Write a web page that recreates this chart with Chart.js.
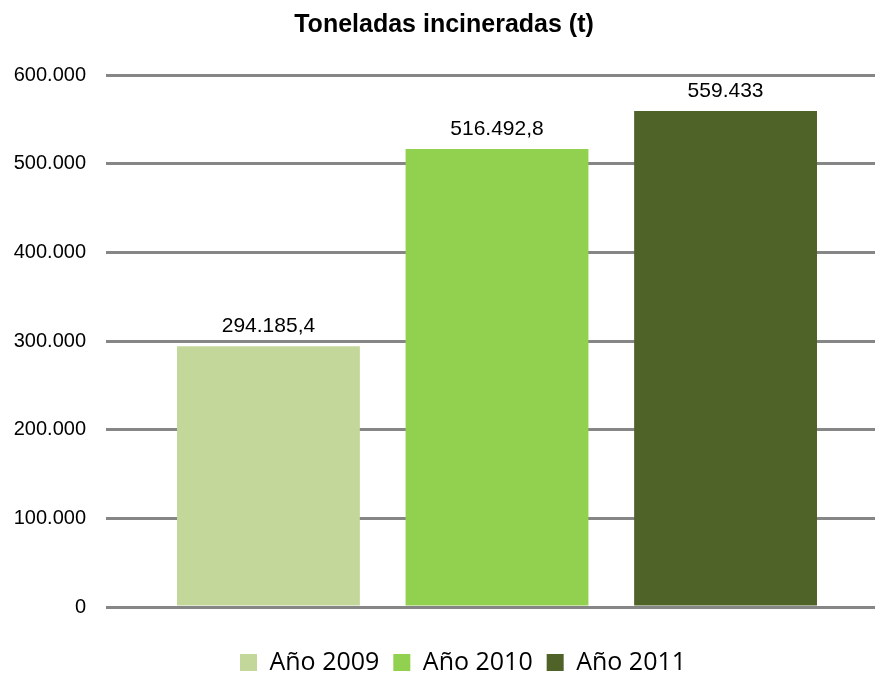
<!DOCTYPE html>
<html>
<head>
<meta charset="utf-8">
<script src="https://cdn.jsdelivr.net/npm/chart.js@4/dist/chart.umd.min.js"></script>
<style>
  html, body { margin: 0; padding: 0; background: #fff; }
  #wrap { width: 875px; height: 677px; }
</style>
</head>
<body>
<div id="wrap"><canvas id="chart" width="875" height="677"></canvas></div>
<script>
const chartTitle = 'Toneladas incineradas (t)';
const seriesNames = ['Año 2009', 'Año 2010', 'Año 2011'];
const seriesValues = [294185.4, 516492.8, 559433];
const seriesColors = ['#C4D79B', '#92D050', '#4F6228'];
const yTicks = [0, 100000, 200000, 300000, 400000, 500000, 600000];

// spanish style: dot for thousands, comma for decimals
function fmt(v) {
  const parts = String(v).split('.');
  const int = parts[0].replace(/\B(?=(\d{3})+(?!\d))/g, '.');
  return parts[1] ? int + ',' + parts[1] : int;
}

const valueLabels = {
  id: 'valueLabels',
  afterDatasetsDraw(chart) {
    const ctx = chart.ctx;
    ctx.save();
    ctx.font = '21px "Liberation Sans", Arial, sans-serif';
    ctx.fillStyle = '#000';
    ctx.textAlign = 'center';
    ctx.textBaseline = 'alphabetic';
    chart.data.datasets.forEach((ds, i) => {
      const bar = chart.getDatasetMeta(i).data[0];
      ctx.fillText(fmt(ds.data[0]), bar.x, bar.y - 14);
    });
    ctx.restore();
  }
};

// legend in the original sits a bit right of the canvas centre
const legendShift = {
  id: 'legendShift',
  afterLayout(chart) {
    chart.legend.left += 19;
    chart.legend.right += 19;
  }
};

new Chart(document.getElementById('chart'), {
  type: 'bar',
  data: {
    labels: [''],
    datasets: seriesNames.map((name, i) => ({
      label: name,
      data: [seriesValues[i]],
      backgroundColor: seriesColors[i],
      borderWidth: 0,
      barPercentage: 0.8,
      categoryPercentage: 0.907
    }))
  },
  options: {
    responsive: false,
    animation: false,
    layout: { padding: { left: 13, right: 0, top: 0, bottom: -8 } },
    plugins: {
      title: {
        display: true,
        text: chartTitle,
        color: '#000',
        font: { family: '"Liberation Sans", Arial, sans-serif', size: 25, weight: 'bold' },
        padding: { top: 10, bottom: 35 }
      },
      legend: {
        position: 'bottom',
        labels: {
          color: '#000',
          font: { family: '"Open Sans", sans-serif', size: 25 },
          boxWidth: 17,
          boxHeight: 17,
          padding: 14
        }
      },
      tooltip: { enabled: false }
    },
    scales: {
      x: {
        ticks: { display: false },
        grid: { display: false },
        border: { display: false },
        afterFit: (axis) => { axis.height = 29; }
      },
      y: {
        min: 0,
        max: 600000,
        afterBuildTicks: (axis) => { axis.ticks = yTicks.map(v => ({ value: v })); },
        afterFit: (axis) => { axis.width = 106; },
        border: { display: false },
        grid: { color: '#868686', lineWidth: 3, tickLength: 13, drawTicks: true },
        ticks: {
          color: '#000',
          padding: 20,
          font: { family: '"Liberation Sans", Arial, sans-serif', size: 20 },
          callback: (v) => fmt(v)
        }
      }
    }
  },
  plugins: [valueLabels, legendShift]
});
</script>
</body>
</html>
